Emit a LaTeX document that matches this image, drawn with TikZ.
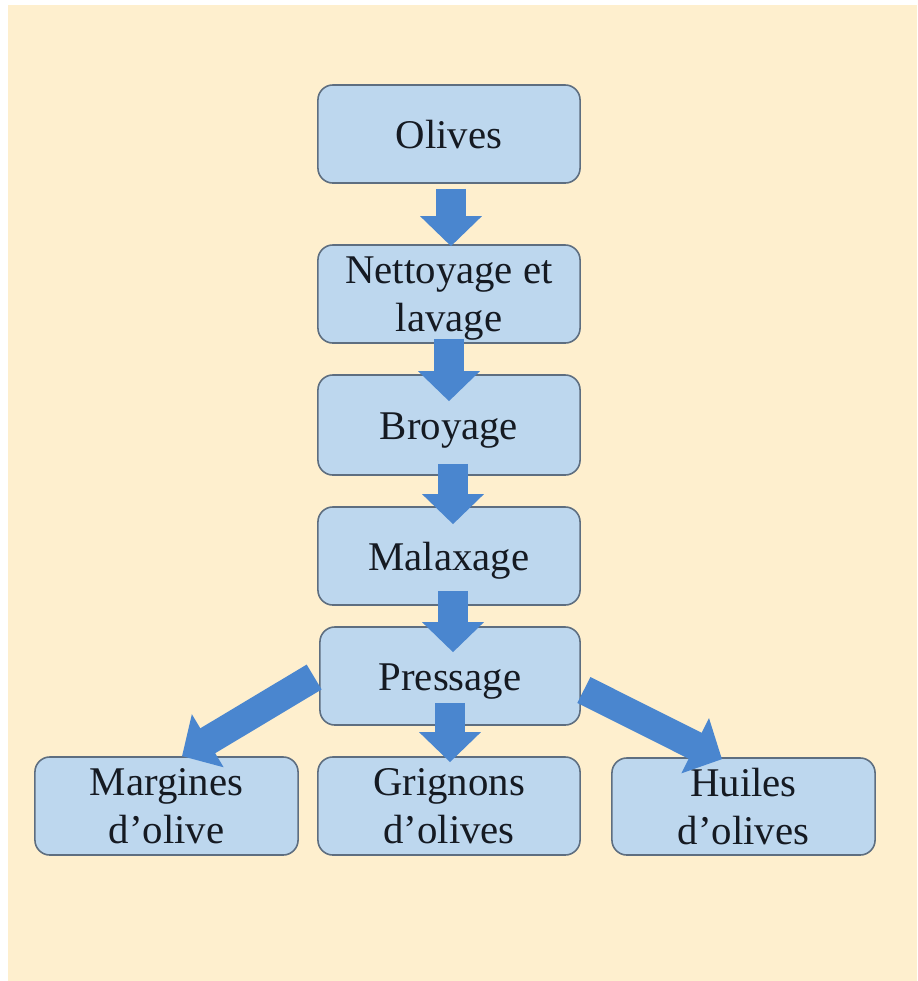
\documentclass[tikz,border=0pt]{standalone}
\usepackage{fontspec}
\setmainfont{Liberation Serif}
\usetikzlibrary{arrows.meta,calc}
\definecolor{bgbeige}{HTML}{FEEFCE}
\definecolor{boxfill}{HTML}{BDD7EE}
\definecolor{boxline}{HTML}{5E6E80}
\definecolor{arrowblue}{HTML}{4A86CF}
\definecolor{txt}{HTML}{151A22}
\tikzset{
  stepbox/.style={draw=boxline, line width=0.45pt, fill=boxfill, rounded corners=0.15cm,
    inner sep=0pt, minimum width=2.62cm, minimum height=0.98cm, align=center,
    text=txt, font=\fontsize{11.6pt}{13.6pt}\selectfont},
  oneline/.style={text height=0.3cm, text depth=0.02cm},
  blk/.style={draw=arrowblue, line width=0.29cm, -{Triangle[length=0.3cm,width=0.6cm]}},
}
\begin{document}
\begin{tikzpicture}[x=0.01cm,y=-0.01cm]
\useasboundingbox (0,0) rectangle (917,981);
\fill[white] (0,0) rectangle (917,981);
\fill[bgbeige] (8,5) rectangle (917,981);

\node[stepbox, oneline] (olives) at (449,134) {Olives};
\node[stepbox, text depth=0pt] (nett) at (449,294) {Nettoyage et\\lavage};
\node[stepbox, oneline, minimum height=1.0cm] (broy) at (449,425) {Broyage};
\node[stepbox, oneline] (malax) at (449,556) {Malaxage};
\node[stepbox, oneline, minimum width=2.6cm] (press) at (450,676) {Pressage};
\node[stepbox, minimum width=2.63cm] (marg) at (166.5,806) {Margines\\d’olive};
\node[stepbox] (grig) at (449,806) {Grignons\\d’olives};
\node[stepbox, minimum width=2.63cm, minimum height=0.97cm] (huil) at (743.5,806.5) {Huiles\\d’olives};

\draw[blk] ($(olives.south)+(2,5)$) -- ($(nett.north)+(2,2)$);
\draw[blk] ($(nett.south)+(0,-5)$) -- ($(broy.north)+(0,27)$);
\draw[blk] ($(broy.south)+(4,-12)$) -- ($(malax.north)+(4,18)$);
\draw[blk] ($(malax.south)+(4,-15)$) -- ($(press.north)+(3,26)$);
\draw[blk] ($(press.south)+(0,-23)$) -- ($(grig.north)+(1,6)$);
\draw[blk] ($(press.west)+(-5,1)$) -- ($(marg.north)+(15.5,0)$);
\draw[blk] ($(press.east)+(3,14)$) -- ($(huil.north)+(-21.5,2)$);
\end{tikzpicture}
\end{document}
